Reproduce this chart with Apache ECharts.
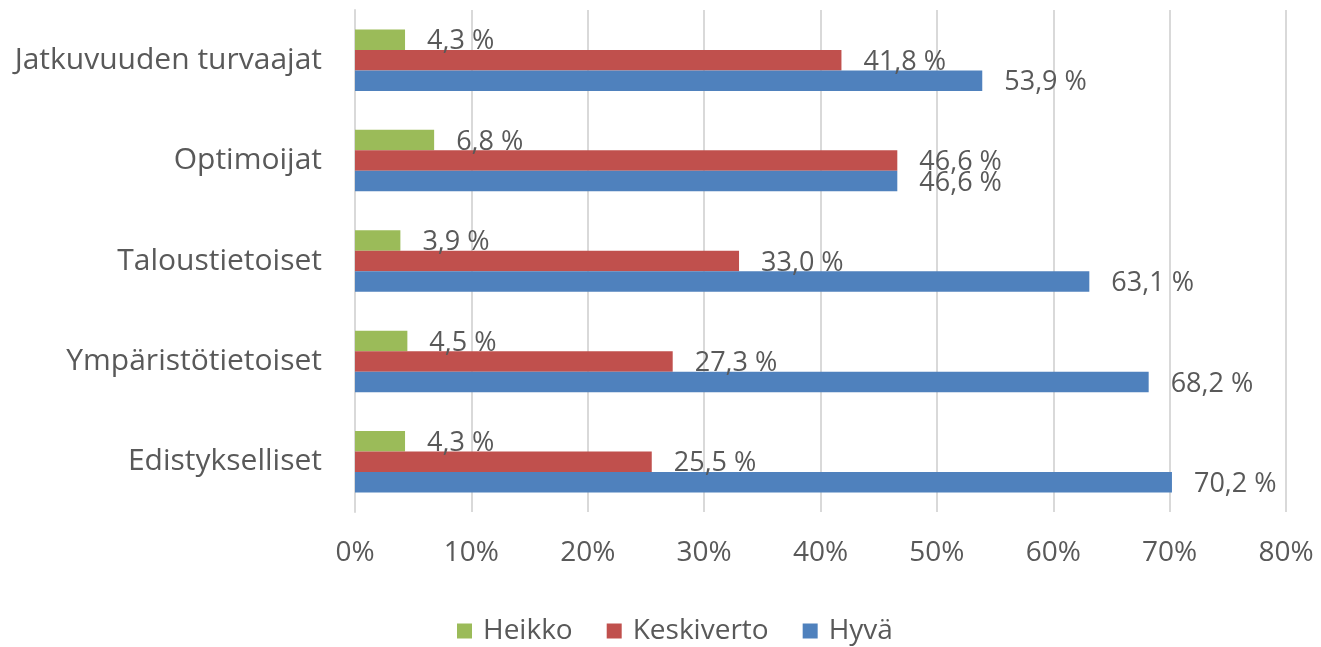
<!DOCTYPE html>
<html>
<head>
<meta charset="utf-8">
<script src="https://cdn.jsdelivr.net/npm/echarts@6/dist/echarts.min.js"></script>
<style>html,body{margin:0;padding:0;background:#fff}#c{width:1321px;height:647px}</style>
</head>
<body>
<div id="c"></div>
<script>
const categories = ['Jatkuvuuden turvaajat', 'Optimoijat', 'Taloustietoiset', 'Ympäristötietoiset', 'Edistykselliset'];
const heikko = [4.3, 6.8, 3.9, 4.5, 4.3];
const keskiverto = [41.8, 46.6, 33.0, 27.3, 25.5];
const hyva = [53.9, 46.6, 63.1, 68.2, 70.2];
const seriesNames = ['Heikko', 'Keskiverto', 'Hyvä'];
const colors = ['#9BBB59', '#C0504D', '#4F81BD'];
const xTicks = { min: 0, max: 80, interval: 10 };

const font = "'Open Sans', sans-serif";
const textColor = '#595959';
const fmt = p => p.value.toFixed(1).replace('.', ',') + ' %';

function mk(name, data, color) {
  return {
    name, type: 'bar', data,
    barWidth: 20.5, barGap: '0%',
    itemStyle: { color },
    label: { show: true, position: 'right', distance: 22, offset: [0, 2], formatter: fmt,
      color: textColor, fontSize: 27, fontFamily: font },
    emphasis: { disabled: true }
  };
}

const chart = echarts.init(document.getElementById('c'));
chart.setOption({
  animation: false,
  textStyle: { fontFamily: font },
  grid: { left: 355, right: 35, top: 10, bottom: 135, containLabel: false },
  legend: {
    top: 612, left: 452, itemWidth: 15, itemHeight: 15, itemGap: 34,
    icon: 'rect',
    textStyle: { color: textColor, fontSize: 28, fontFamily: font, padding: [0, 0, 0, 6] },
    data: seriesNames
  },
  xAxis: {
    type: 'value', min: xTicks.min, max: xTicks.max, interval: xTicks.interval,
    axisLine: { show: false }, axisTick: { show: false },
    splitLine: { show: true, lineStyle: { color: '#d9d9d9', width: 2 } },
    axisLabel: { formatter: '{value}%', color: textColor, fontSize: 28, fontFamily: font, margin: 27 }
  },
  yAxis: {
    type: 'category', data: categories, inverse: true,
    axisLine: { show: true, lineStyle: { color: '#d9d9d9', width: 2 } },
    axisTick: { show: false },
    axisLabel: { color: textColor, fontSize: 30, fontFamily: font, margin: 33 }
  },
  series: [
    mk(seriesNames[0], heikko, colors[0]),
    mk(seriesNames[1], keskiverto, colors[1]),
    mk(seriesNames[2], hyva, colors[2])
  ]
});
</script>
</body>
</html>
